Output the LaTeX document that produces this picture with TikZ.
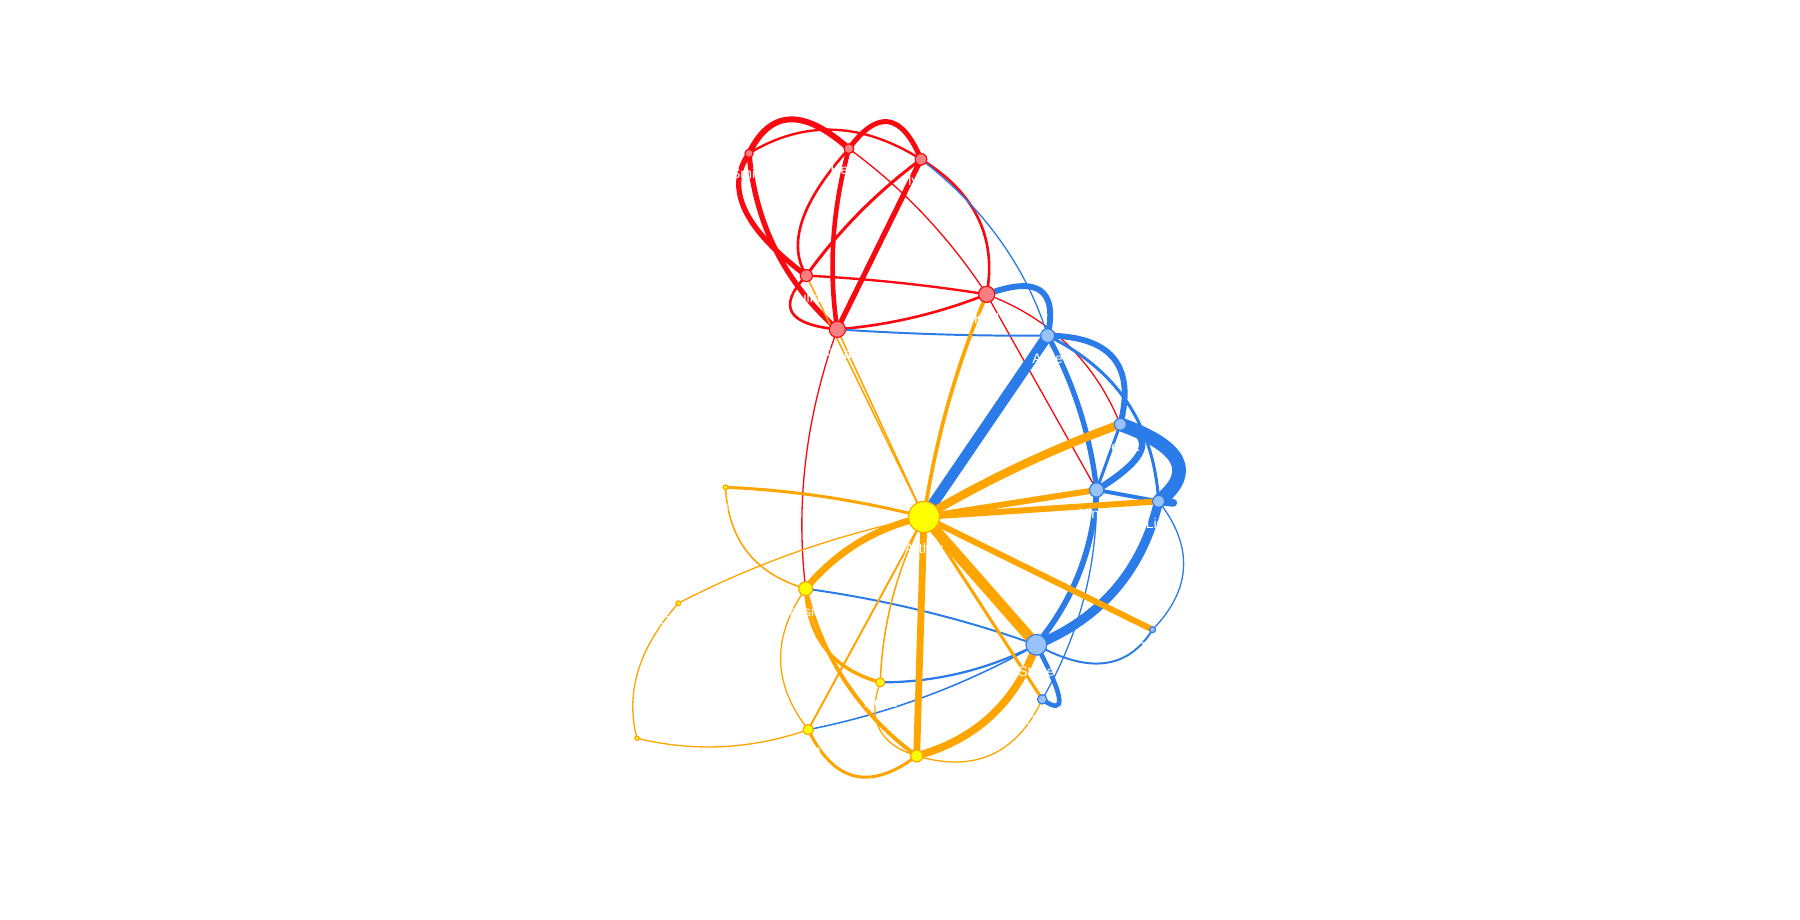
\documentclass[tikz,border=0pt]{standalone}
\usepackage{fontspec}
\setmainfont{Liberation Sans}
\usetikzlibrary{calc}
\definecolor{redE}{HTML}{FA0A10}
\definecolor{redF}{HTML}{FB7E81}
\definecolor{bluE}{HTML}{2B7CE9}
\definecolor{bluF}{HTML}{97C2FC}
\definecolor{orE}{HTML}{FFA500}
\definecolor{yeF}{HTML}{FFFF00}
\newcommand\qarc[4][]{\draw[#1] (#2.center) .. controls ($(#2)!0.6667!(#3)$) and ($(#4)!0.6667!(#3)$) .. (#4.center);}
\tikzset{
  ew/.style={line width=#1*0.57pt},
  rE/.style={draw=redE},
  bE/.style={draw=bluE},
  oE/.style={draw=orE},
  nd/.style={circle, inner sep=0pt, line width=0.45pt},
  rnd/.style={nd, draw=redE, fill=redF, minimum size=#1*1pt},
  bnd/.style={nd, draw=bluE, fill=bluF, minimum size=#1*1pt},
  ynd/.style={nd, draw=orE, fill=yeF, minimum size=#1*1pt},
  lab/.style={text=white, font=\fontsize{6.1}{7}\selectfont, inner sep=0pt}
}
\begin{document}
\begin{tikzpicture}[x=0.5pt,y=-0.5pt]
\fill[white] (0,0) rectangle (1568,801.4);
\useasboundingbox (0,0) rectangle (1568,801.4);
% nodes (coordinates first, drawn again on top later)
\node[rnd=3.5] (R1) at (652.5,133.6) {};
\node[rnd=4.2] (R2) at (739.5,129.5) {};
\node[rnd=5]   (R3) at (802.3,138.8) {};
\node[rnd=5.2] (R4) at (702.4,240.1) {};
\node[rnd=7]   (R5) at (859.5,256.4) {};
\node[rnd=7]   (R6) at (729.4,286.9) {};
\node[bnd=6]   (B1) at (912.6,292.4) {};
\node[bnd=5.2] (B2) at (975.9,369.6) {};
\node[bnd=6.2] (B3) at (955.3,426.8) {};
\node[bnd=5.2] (B4) at (1009.3,436.7) {};
\node[bnd=2.5] (B5) at (1004,548.5) {};
\node[bnd=9]   (B6) at (902.8,561.7) {};
\node[bnd=4]   (B7) at (907.9,609.2) {};
\node[ynd=13.5] (Y0) at (804.9,450.3) {};
\node[ynd=2]   (Y1) at (632,424.5) {};
\node[ynd=6]   (Y2) at (701.8,512.8) {};
\node[ynd=2]   (Y3) at (590.9,525.5) {};
\node[ynd=3.8] (Y4) at (766.8,594.4) {};
\node[ynd=4.4] (Y5) at (704.1,635.6) {};
\node[ynd=1.8] (Y6) at (554.9,643.1) {};
\node[ynd=5.2] (Y7) at (798.5,658.5) {};
\coordinate (B4t) at (1022,438);
% red edges
\qarc[rE,ew=4.5]{R2}{680,76.5}{R1}
\qarc[rE,ew=4]{R1}{620.5,179}{R4}
\qarc[rE,ew=4]{R1}{660.6,225.5}{R6}
\qarc[rE,ew=3.8]{R2}{777,78}{R3}
\qarc[rE,ew=1.8]{R1}{724.6,89.8}{R3}
\qarc[rE,ew=3.5]{R2}{717.5,209.8}{R6}
\qarc[rE,ew=2]{R2}{677,199}{R4}
\qarc[rE,ew=2.3]{R3}{744,182}{R4}
\draw[rE,ew=4] (R3.center) -- (R6.center);
\qarc[rE,ew=2]{R3}{873,182}{R5}
\qarc[rE,ew=1]{R2}{810,181}{R5}
\qarc[rE,ew=1.8]{R4}{781,244}{R5}
\qarc[rE,ew=2]{R6}{796.8,281.4}{R5}
\qarc[rE,ew=2]{R4}{664,280.5}{R6}
\draw[rE,ew=1] (R5.center) -- (B3.center);
\qarc[rE,ew=1]{R5}{942.4,287.6}{B2}
\qarc[rE,ew=1]{R6}{688.4,400}{Y2}
% blue edges
\qarc[bE,ew=1]{R3}{884.5,202.4}{B1}
\qarc[bE,ew=1.5]{R6}{821,293}{B1}
\qarc[bE,ew=4.5]{R5}{926,231.6}{B1}
\draw[bE,ew=8] (B1.center) -- (Y0.center);
\qarc[bE,ew=4]{B1}{947.3,355.4}{B3}
\qarc[bE,ew=4.5]{B1}{995.7,293}{B2}
\qarc[bE,ew=2.3]{B1}{1002.9,336.5}{B4}
\qarc[bE,ew=10.5]{B2}{1057.4,398.8}{B4}
\draw[bE,ew=6,line cap=round] (B4.center) -- (B4t);
\qarc[bE,ew=5]{B2}{1022.4,385.8}{B3}
\draw[bE,ew=2.3] (B2.center) -- (B3.center);
\draw[bE,ew=3] (B3.center) -- (B4.center);
\qarc[bE,ew=4.4]{B3}{951.4,503}{B6}
\qarc[bE,ew=7]{B4}{988,526.5}{B6}
\qarc[bE,ew=1]{B3}{956.8,524.5}{B7}
\qarc[bE,ew=1]{B4}{1055.3,495.7}{B5}
\qarc[bE,ew=1.5]{B6}{972,600}{B5}
\qarc[bE,ew=3.5]{B6}{940,632}{B7}
\qarc[bE,ew=1.5]{Y2}{805,527}{B6}
\qarc[bE,ew=1.7]{Y4}{838.8,594.5}{B6}
\qarc[bE,ew=1.2]{Y5}{809.4,614.6}{B6}
% orange edges
\qarc[oE,ew=6.4]{Y0}{886.6,401.9}{B2}
\draw[oE,ew=4.6] (Y0.center) -- (B3.center);
\draw[oE,ew=4.6] (Y0.center) -- (B4.center);
\draw[oE,ew=8] (Y0.center) -- (B6.center);
\draw[oE,ew=4.6] (Y0.center) -- (B5.center);
\draw[oE,ew=2.3] (Y0.center) -- (B7.center);
\draw[oE,ew=5.2] (Y0.center) -- (Y7.center);
\qarc[oE,ew=2.3]{Y1}{717.5,428}{Y0}
\qarc[oE,ew=5.2]{Y0}{742.6,463.8}{Y2}
\qarc[oE,ew=1]{Y3}{692.6,472.8}{Y0}
\draw[oE,ew=1.5] (Y0.center) -- (Y5.center);
\qarc[oE,ew=1.2]{Y0}{769.5,518}{Y4}
\qarc[oE,ew=1]{Y4}{749.2,643.1}{Y7}
\qarc[oE,ew=1]{Y7}{874.3,680.8}{B7}
\qarc[oE,ew=1.2]{Y1}{635.5,493.5}{Y2}
\qarc[oE,ew=2.6]{Y2}{704.6,577.3}{Y4}
\qarc[oE,ew=3]{Y2}{723.7,603.3}{Y7}
\qarc[oE,ew=1]{Y2}{657,575.8}{Y5}
\qarc[oE,ew=1]{Y3}{539.1,583.7}{Y6}
\qarc[oE,ew=1]{Y6}{629.5,661.4}{Y5}
\qarc[oE,ew=2.3]{Y5}{737.3,704.7}{Y7}
\qarc[oE,ew=5.8]{Y7}{875.9,637.2}{B6}
\draw[oE,ew=1.2] (R4.center) -- (Y0.center);
\draw[oE,ew=1.2] (R6.center) -- (Y0.center);
\qarc[oE,ew=2.8]{R5}{819.7,349.8}{Y0}
% redraw nodes on top
\foreach \n/\s/\r in {R1/rnd/3.5,R2/rnd/4.2,R3/rnd/5,R4/rnd/5.2,R5/rnd/7,R6/rnd/7,
  B1/bnd/6,B2/bnd/5.2,B3/bnd/6.2,B4/bnd/5.2,B5/bnd/2.5,B6/bnd/9,B7/bnd/4,
  Y0/ynd/13.5,Y1/ynd/2,Y2/ynd/6,Y3/ynd/2,Y4/ynd/3.8,Y5/ynd/4.4,Y6/ynd/1.8,Y7/ynd/5.2}
  {\node[\s=\r] at (\n.center) {};}
% labels
\node[lab] (R1t) at (652.5,151.1) {Smith};
\node[lab] (R2t) at (739.5,147.7) {Helen};
\node[lab] (R3t) at (802.3,157.8) {Ivan};
\node[lab] (R4t) at (702.4,259.3) {Julia};
\node[lab] (R5t) at (859.5,277.4) {Karl};
\node[lab] (R6t) at (729.4,307.9) {Nina};
\node[lab] (B1t) at (912.6,312.4) {Alice};
\node[lab] (B2t) at (975.9,388.8) {Debra};
\node[lab] (B3t) at (955.3,447) {Vince};
\node[lab] (B4t2) at (1009.3,455.9) {Lisa};
\node[lab] (B5t) at (1004,564.5) {Tom};
\node[lab] (B6t) at (902.8,584.7) {Steve};
\node[lab] (B7t) at (907.9,627.2) {Omar};
\node[lab] (Y0t) at (804.9,477.8) {Arthur};
\node[lab] (Y1t) at (632,440.5) {Paul};
\node[lab] (Y2t) at (701.8,532.8) {Jessica};
\node[lab] (Y3t) at (590.9,541.5) {Quinn};
\node[lab] (Y4t) at (766.8,612.2) {Rosa};
\node[lab] (Y5t) at (704.1,654) {Ben};
\node[lab] (Y6t) at (554.9,658.9) {Fred};
\node[lab] (Y7t) at (798.5,677.7) {Oscar};
\end{tikzpicture}
\end{document}
